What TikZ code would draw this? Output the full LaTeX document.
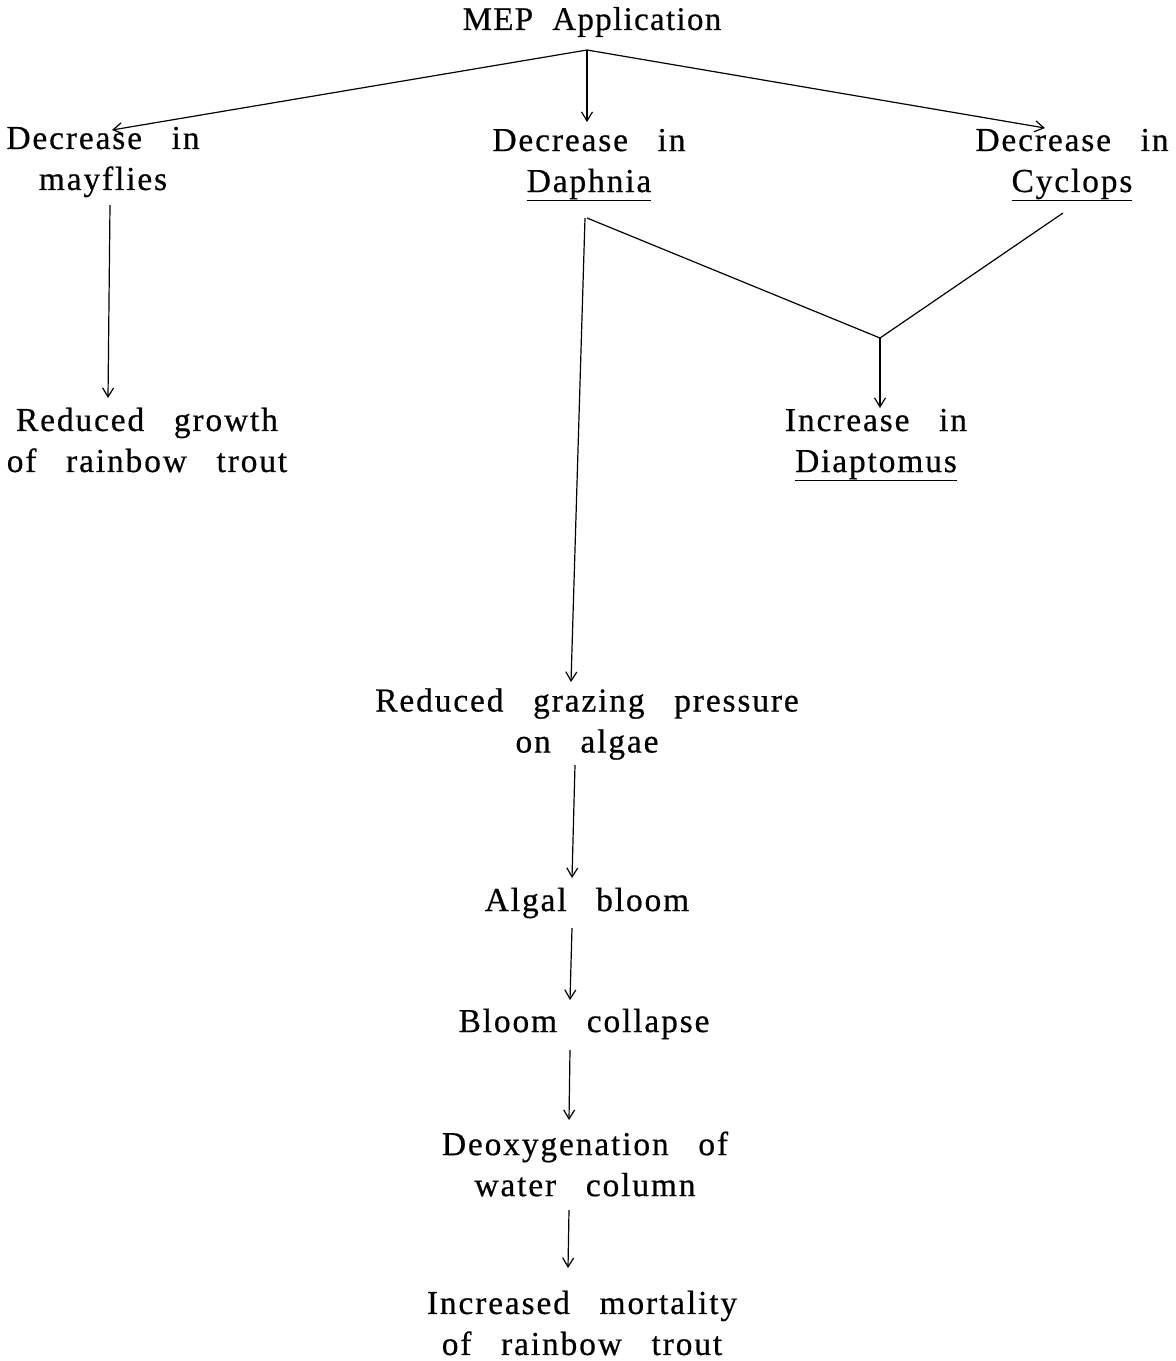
\documentclass[tikz,border=0pt]{standalone}
\usepackage{fontspec}
\setmainfont{Liberation Serif}
\usetikzlibrary{arrows.meta}
\newfontfamily\lsfont[LetterSpace=5.5,WordSpace=2.9,FakeBold=0.5]{Liberation Serif}
\newfontfamily\ttlfont[LetterSpace=4,WordSpace=2,FakeBold=0.5]{Liberation Serif}
\newcommand\labfont{\lsfont\fontsize{33.5}{41}\selectfont}
\newcommand\mepfont{\ttlfont\fontsize{33}{40}\selectfont}
\begin{document}
\begin{tikzpicture}[x=1pt,y=-1pt,
  lab/.style={inner sep=0pt,align=center,font=\labfont},
  ttl/.style={inner sep=0pt,font=\mepfont},
  arr/.style={-{Straight Barb[length=9pt,width=11pt]},line width=1.2pt},
  ln/.style={line width=1.2pt}]
\useasboundingbox (0,0) rectangle (1176,1361);
\node[ttl] (mep) at (592,22) {MEP Application};
\node[lab] (may) at (103,162) {Decrease in\\mayflies};
\node[lab] (daph) at (589,165) {Decrease in\\\underline{Daphnia}};
\node[lab] (cyc) at (1072,165) {Decrease in\\\underline{Cyclops}};
\node[lab] (trout) at (147,440) {Reduced growth\\of rainbow trout};
\node[lab] (diap) at (876,445) {Increase in\\\underline{Diaptomus}};
\node[lab] (graz) at (587,724) {Reduced grazing pressure\\on algae};
\node[lab] (algal) at (587,903) {Algal bloom};
\node[lab] (coll) at (584,1024) {Bloom collapse};
\node[lab] (deox) at (585,1164) {Deoxygenation of\\water column};
\node[lab] (mort) at (582,1323) {Increased mortality\\of rainbow trout};
\coordinate (apex) at (587,50);
\coordinate (join) at (880,338);
\draw[arr] (apex) -- (112,130);
\draw[arr] (apex) -- (587,122);
\draw[arr] (apex) -- (1045,128);
\draw[arr] (110,205) -- (108,398);
\draw[arr] (585,218) -- (571,682);
\draw[ln] (587,218) -- (join);
\draw[ln] (1063,213) -- (join);
\draw[arr] (join) -- (880,408);
\draw[arr] (575,765) -- (572,878);
\draw[arr] (572,928) -- (570,1000);
\draw[arr] (570,1050) -- (569,1120);
\draw[arr] (569,1210) -- (568,1268);
\end{tikzpicture}
\end{document}
